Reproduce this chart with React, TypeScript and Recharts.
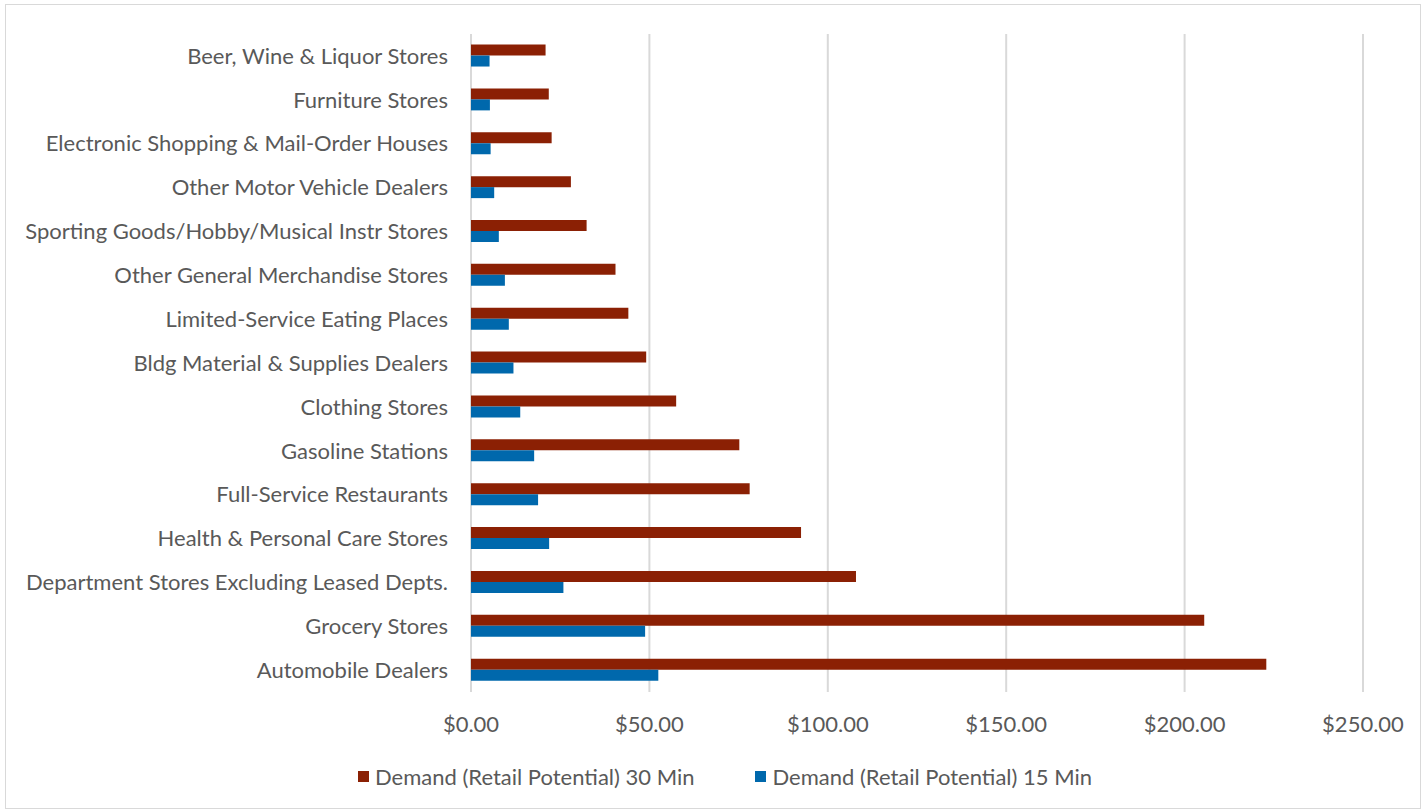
import { Bar, BarChart, CartesianGrid, Legend, XAxis, YAxis } from "recharts"

// Store categories, top to bottom
const categories = [
  "Beer, Wine & Liquor Stores",
  "Furniture Stores",
  "Electronic Shopping & Mail-Order Houses",
  "Other Motor Vehicle Dealers",
  "Sporting Goods/Hobby/Musical Instr Stores",
  "Other General Merchandise Stores",
  "Limited-Service Eating Places",
  "Bldg Material & Supplies Dealers",
  "Clothing Stores",
  "Gasoline Stations",
  "Full-Service Restaurants",
  "Health & Personal Care Stores",
  "Department Stores Excluding Leased Depts.",
  "Grocery Stores",
  "Automobile Dealers",
]

const demand30 = [20.9, 21.8, 22.6, 28.0, 32.4, 40.5, 44.1, 49.1, 57.5, 75.2, 78.1, 92.5, 107.9, 205.5, 222.9]
const demand15 = [5.2, 5.3, 5.5, 6.5, 7.8, 9.5, 10.6, 11.9, 13.8, 17.7, 18.8, 21.9, 25.9, 48.8, 52.5]

const xTicks = [0, 50, 100, 150, 200, 250]

const RED = "#8B2004"
const BLUE = "#0068AC"
const TEXT = "#595959"
const FONT = "Lato, sans-serif"

const data = categories.map((name, i) => ({
  name,
  d30: demand30[i],
  d15: demand15[i],
}))

const renderLegend = () => (
  <div
    style={{
      display: "flex",
      justifyContent: "center",
      gap: 60,
      paddingLeft: 26,
      fontFamily: FONT,
      fontSize: 22,
      color: TEXT,
      height: 30,
      alignItems: "center",
    }}
  >
    <div style={{ display: "flex", alignItems: "center", gap: 6 }}>
      <div style={{ width: 11, height: 11, background: RED }} />
      <span>Demand (Retail Potential) 30 Min</span>
    </div>
    <div style={{ display: "flex", alignItems: "center", gap: 7 }}>
      <div style={{ width: 11, height: 11, background: BLUE }} />
      <span>Demand (Retail Potential) 15 Min</span>
    </div>
  </div>
)

export default function App() {
  return (
    <div style={{ position: "absolute", left: 0, top: 0, width: 1424, height: 812, background: "#fff" }}>
      <div
        style={{
          position: "absolute",
          left: 5,
          top: 4,
          width: 1414,
          height: 803,
          border: "1px solid #d9d9d9",
        }}
      />
      <div style={{ position: "absolute", left: 0, top: 0 }}>
        <BarChart
          width={1424}
          height={812}
          data={data}
          layout="vertical"
          margin={{ top: 34, right: 61, bottom: 40, left: 0 }}
          barCategoryGap="24%"
          barGap={0}
        >
          <CartesianGrid horizontal={false} stroke="#d9d9d9" strokeWidth={2} />
          <XAxis
            type="number"
            domain={[0, 250]}
            ticks={xTicks}
            tickFormatter={(v: number) => `$${v.toFixed(2)}`}
            axisLine={false}
            tickLine={false}
            tickSize={0}
            tickMargin={24}
            height={50}
            tick={{ fill: TEXT, fontSize: 22, fontFamily: FONT }}
          />
          <YAxis
            type="category"
            dataKey="name"
            width={471}
            interval={0}
            axisLine={false}
            tickLine={false}
            tickSize={0}
            tickMargin={23}
            tick={{ fill: TEXT, fontSize: 22, fontFamily: FONT }}
          />
          <Legend content={renderLegend} wrapperStyle={{ bottom: 21, left: 0, width: 1424 }} />
          <Bar dataKey="d30" name="Demand (Retail Potential) 30 Min" fill={RED} isAnimationActive={false} />
          <Bar dataKey="d15" name="Demand (Retail Potential) 15 Min" fill={BLUE} isAnimationActive={false} />
        </BarChart>
      </div>
    </div>
  )
}
